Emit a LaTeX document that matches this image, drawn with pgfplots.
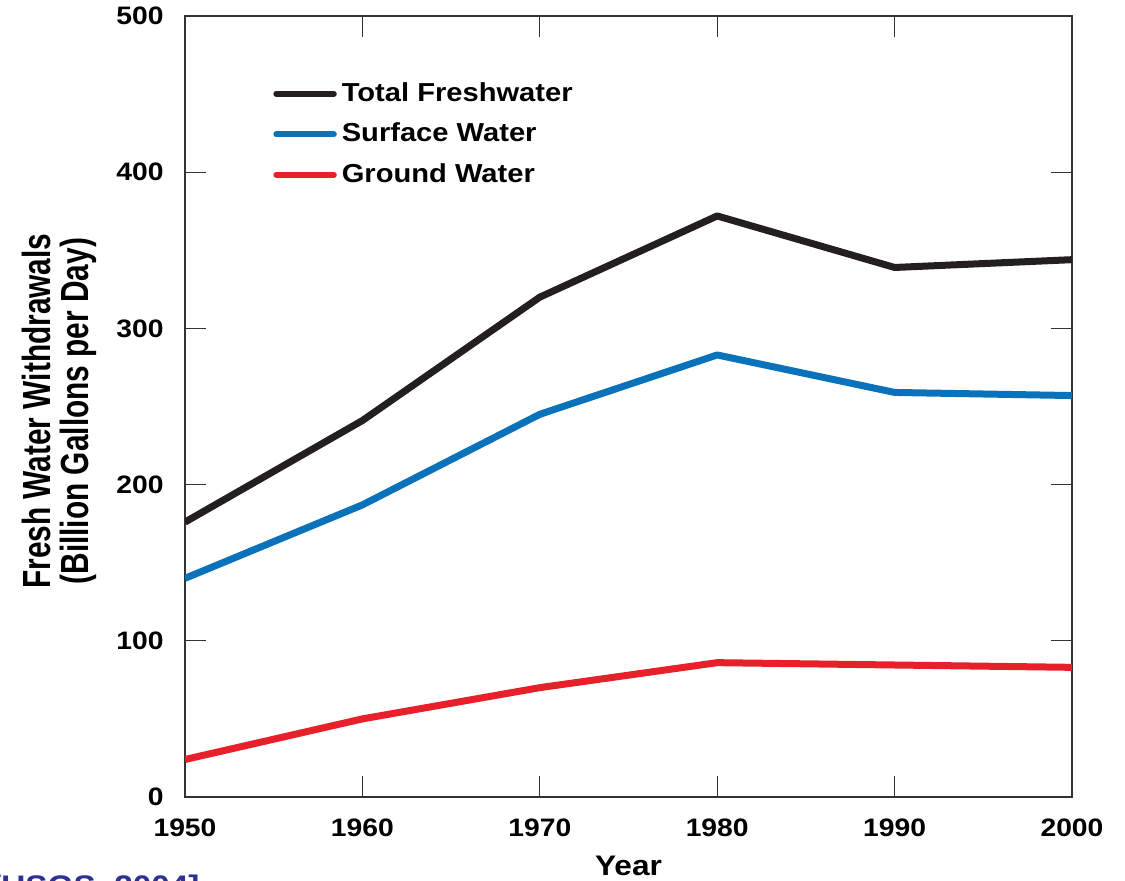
\documentclass[border=0pt]{standalone}
\usepackage{pgfplots}
\pgfplotsset{compat=1.18}
\usepackage{fontspec}
\setmainfont{Liberation Sans}
\newfontfamily\wfont[FakeStretch=1.12]{Liberation Sans}
\newfontfamily\nfont[FakeStretch=0.76]{Liberation Sans}
\definecolor{cTotal}{HTML}{231F20}
\definecolor{cSurf}{HTML}{0A72BA}
\definecolor{cGround}{HTML}{E8202A}
\definecolor{cCite}{HTML}{2E3192}
\definecolor{cAxis}{HTML}{333333}
\begin{document}
\begin{tikzpicture}
\useasboundingbox (0,0) rectangle (450pt,352.4pt);
\begin{axis}[
  at={(74pt,33.6pt)}, anchor=south west,
  scale only axis, width=354.8pt, height=312.4pt,
  xmin=1950, xmax=2000, ymin=0, ymax=500,
  xtick={1950,1960,...,2000}, ytick={0,100,...,500},
  tick align=inside, major tick length=8.4pt,
  axis line style={line width=0.8pt, cAxis},
  tick style={line width=0.5pt, cAxis},
  /pgf/number format/assume math mode=true,
  /pgf/number format/set thousands separator={},
  xticklabel style={font=\wfont\bfseries\fontsize{10.1}{12}\selectfont, yshift=-5.2pt},
  yticklabel style={font=\wfont\bfseries\fontsize{10.1}{12}\selectfont, xshift=-5pt},
  xlabel={Year},
  xlabel style={font=\wfont\bfseries\fontsize{11.3}{13}\selectfont, at={(axis description cs:0.5,0)}, anchor=base, yshift=-31.6pt},
  ylabel={Fresh Water Withdrawals\\(Billion Gallons per Day)},
  ylabel style={font=\nfont\bfseries\fontsize{15.7}{15.2}\selectfont, align=center, at={(axis description cs:-0.142,0.494)}, anchor=center},
  legend cell align=left,
  legend style={draw=none, fill=none, at={(0.099,0.922)}, anchor=north west,
    font=\wfont\bfseries\fontsize{10.4}{12}\selectfont, row sep=3.2pt, inner sep=0pt},
  legend image code/.code={\draw[#1, line width=2.4pt, line cap=round] (0pt,0pt) -- (23pt,0pt);},
  every axis plot/.append style={line width=2.8pt, line join=round},
]
\addplot[cTotal] coordinates {(1950,176) (1960,241) (1970,320) (1980,372) (1990,339) (2000,344)};
\addlegendentry{Total Freshwater}
\addplot[cSurf] coordinates {(1950,140) (1960,187) (1970,245) (1980,283) (1990,259) (2000,257)};
\addlegendentry{Surface Water}
\addplot[cGround] coordinates {(1950,24) (1960,50) (1970,70) (1980,86) (1990,84.5) (2000,83)};
\addlegendentry{Ground Water}
\end{axis}
\node[anchor=base east, inner sep=0pt, text=cCite, font=\wfont\bfseries\fontsize{11.9}{13}\selectfont] at (80pt,-6.1pt) {[USGS, 2004]};
\end{tikzpicture}
\end{document}
